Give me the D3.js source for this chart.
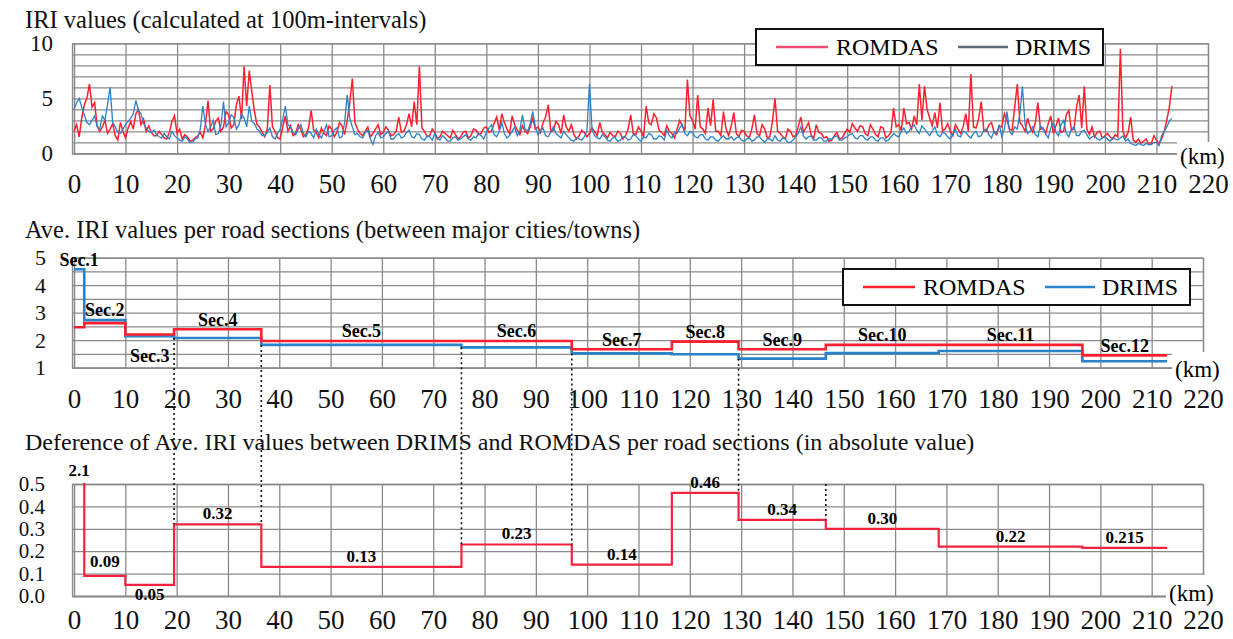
<!DOCTYPE html>
<html>
<head>
<meta charset="utf-8">
<script src="https://cdn.jsdelivr.net/npm/d3@7/dist/d3.min.js"></script>
<style>
  body { margin: 0; background: #fff; }
  svg text { font-family: "Liberation Serif", "Times New Roman", "DejaVu Serif", serif; }
</style>
</head>
<body>
<svg class="chart" width="1233" height="639"></svg>
<script>
// IRI every 0.5 km, ROMDAS and DRIMS
const kmStep = 0.5;
const romdasIri = [
  2.0, 2.6, 1.5, 3.2, 4.4, 5.0, 6.3, 4.2, 4.6, 2.5,
  2.0, 2.4, 3.0, 1.8, 2.2, 2.7, 1.6, 1.2, 2.8, 2.0,
  1.4, 2.3, 2.9, 2.2, 3.6, 4.0, 2.6, 3.1, 2.0, 2.5,
  1.9, 1.6, 1.6, 2.0, 1.7, 1.4, 1.3, 1.9, 2.9, 3.4,
  1.8, 2.2, 1.3, 1.7, 1.5, 1.1, 1.2, 1.4, 1.6, 1.9,
  1.4, 2.6, 4.8, 2.0, 2.2, 2.9, 3.2, 2.0, 2.4, 3.8,
  3.5, 2.3, 2.6, 4.4, 5.2, 3.1, 7.9, 4.3, 7.5, 5.6,
  3.8, 2.6, 2.4, 1.9, 1.5, 2.2, 6.2, 2.4, 2.0, 1.4,
  1.3, 2.4, 3.4, 2.0, 2.5, 1.6, 1.8, 2.6, 2.2, 1.5,
  1.7, 2.3, 3.9, 2.1, 1.9, 1.4, 2.3, 1.8, 1.6, 2.5,
  2.2, 1.5, 1.9, 2.8, 2.5, 1.7, 3.0, 4.6, 6.8, 2.8,
  2.2, 1.8, 1.6, 2.0, 2.4, 1.5, 1.8, 2.2, 2.6, 1.7,
  1.9, 2.4, 2.1, 1.6, 1.7, 2.0, 3.3, 1.9, 2.0, 2.6,
  3.6, 2.4, 4.7, 2.6, 7.9, 2.3, 2.0, 1.5, 1.6, 2.2,
  1.9, 1.3, 1.5, 2.0, 1.8, 1.6, 1.4, 2.1, 1.7, 1.3,
  1.5, 1.9, 2.0, 1.4, 1.6, 2.2, 2.1, 1.7, 1.8, 2.3,
  2.4, 1.9, 2.0, 2.7, 3.3, 2.1, 3.6, 2.8, 2.2, 1.8,
  3.4, 2.6, 2.1, 1.7, 2.5, 2.0, 1.8, 2.4, 3.2, 2.2,
  2.4, 1.9, 2.8, 3.3, 4.4, 2.0, 2.1, 2.9, 2.6, 1.8,
  3.5, 2.4, 2.0, 2.6, 1.7, 1.3, 1.6, 2.1, 1.9, 1.5,
  1.8, 2.3, 2.0, 1.6, 2.8, 1.9, 1.7, 1.4, 1.9, 1.6,
  1.5, 2.0, 1.8, 1.3, 1.6, 2.2, 3.5, 1.8, 1.7, 2.4,
  2.0, 1.5, 4.3, 2.8, 2.6, 3.6, 3.2, 2.1, 1.9, 1.6,
  2.5, 2.0, 1.8, 1.4, 2.2, 3.0, 2.5, 2.0, 6.7, 3.4,
  3.0, 2.2, 5.3, 2.4, 2.2, 1.8, 4.1, 2.5, 4.9, 2.0,
  2.0, 1.6, 3.8, 2.2, 1.6, 2.5, 3.7, 1.8, 1.5, 2.1,
  2.0, 1.6, 1.4, 2.2, 3.5, 1.8, 1.6, 2.6, 2.2, 1.4,
  1.5, 2.9, 5.0, 2.0, 1.8, 1.5, 1.3, 2.2, 2.0, 1.5,
  1.6, 2.4, 3.3, 1.9, 2.3, 2.8, 1.7, 1.3, 2.6, 1.9,
  1.8, 1.4, 1.5, 1.1, 1.2, 1.6, 1.9, 1.3, 1.4, 1.8,
  2.2, 1.9, 2.7, 2.3, 2.0, 2.5, 2.4, 1.8, 1.6, 2.6,
  2.2, 1.7, 1.5, 2.4, 2.3, 1.4, 1.6, 1.9, 4.1, 2.4,
  2.6, 2.1, 4.1, 2.7, 2.8, 2.2, 3.4, 2.6, 6.3, 3.0,
  6.1, 4.0, 3.2, 2.5, 3.7, 2.3, 4.6, 2.0, 2.2, 2.7,
  2.0, 1.6, 2.6, 2.2, 1.8, 2.4, 3.6, 2.0, 7.2, 2.4,
  2.3, 3.1, 4.7, 2.1, 2.0, 2.6, 2.8, 1.9, 1.7, 2.5,
  2.4, 3.6, 3.0, 2.2, 2.1, 4.2, 6.3, 2.8, 2.5, 2.0,
  3.2, 2.4, 1.9, 2.8, 4.6, 2.2, 2.3, 1.8, 2.7, 3.4,
  1.8, 2.5, 3.2, 1.9, 2.0, 3.5, 3.9, 2.1, 2.2, 4.2,
  5.3, 2.3, 6.1, 2.2, 1.7, 2.4, 1.5, 1.9, 2.0, 1.4,
  1.6, 1.8, 1.5, 1.3, 1.7, 1.5, 9.5, 2.0, 1.4, 1.9,
  3.3, 1.2, 1.0, 1.3, 0.9, 1.1, 1.3, 0.8, 0.9, 1.6,
  1.2, 0.9, 1.3, 2.0, 3.0, 4.2, 6.1
];
const drimsIri = [
  4.0, 4.6, 5.0, 4.2, 3.5, 2.8, 2.6, 3.0, 3.4, 2.4,
  2.2, 3.4, 3.0, 4.4, 6.0, 2.8, 2.4, 1.9, 1.8, 2.2,
  2.6, 2.9, 3.2, 3.6, 4.8, 3.9, 3.6, 2.7, 2.3, 2.0,
  1.9, 2.1, 1.7, 1.5, 1.4, 1.8, 1.5, 1.3, 2.0, 1.6,
  1.4, 1.2, 1.1, 1.5, 1.3, 1.0, 1.0, 1.3, 1.4, 2.2,
  4.3, 2.6, 2.0, 2.4, 3.0, 1.7, 1.8, 2.5, 4.7, 2.4,
  2.8, 3.5, 3.3, 2.2, 2.6, 3.6, 3.2, 2.4, 4.3, 2.9,
  2.7, 2.2, 2.0, 1.6, 1.6, 1.9, 2.3, 1.5, 1.3, 1.8,
  2.2, 3.1, 4.3, 2.6, 2.4, 1.9, 1.7, 2.2, 2.6, 1.8,
  1.5, 2.0, 1.8, 1.4, 2.2, 1.7, 1.4, 2.0, 2.6, 1.5,
  1.6, 2.1, 2.3, 1.4, 1.5, 2.8, 5.3, 3.2, 2.4, 1.7,
  1.8, 1.5, 1.4, 1.9, 2.1, 1.3, 0.8, 1.6, 1.9, 1.4,
  1.5, 1.8, 2.0, 1.3, 1.3, 1.6, 1.8, 1.4, 1.5, 1.9,
  2.1, 1.5, 1.4, 1.8, 1.7, 1.3, 1.2, 1.6, 1.5, 1.2,
  1.8, 1.4, 1.2, 1.6, 1.4, 1.1, 1.1, 1.4, 1.5, 1.2,
  1.3, 1.5, 1.7, 1.3, 1.2, 1.5, 1.4, 1.8, 1.6, 1.3,
  1.9, 2.3, 2.6, 1.7, 1.5, 2.0, 2.8, 1.8, 1.4, 1.6,
  2.0, 2.4, 1.6, 2.1, 3.5, 2.2, 2.0, 2.7, 3.8, 2.4,
  1.7, 2.0, 2.3, 1.6, 1.5, 1.9, 2.4, 1.8, 1.6, 1.4,
  2.0, 1.7, 1.4, 1.2, 1.1, 1.4, 1.3, 1.2, 1.5, 2.0,
  6.3, 2.2, 1.6, 1.4, 1.3, 1.7, 1.5, 1.2, 1.1, 1.4,
  1.4, 1.1, 1.2, 1.5, 1.5, 1.2, 1.3, 1.7, 1.6, 1.3,
  1.1, 1.5, 1.4, 1.8, 1.7, 1.3, 1.3, 1.6, 1.5, 1.2,
  2.1, 1.6, 1.4, 1.9, 1.8, 2.3, 2.6, 1.8, 1.6, 2.0,
  1.9, 1.5, 1.4, 1.7, 1.7, 1.3, 1.2, 1.5, 1.5, 1.2,
  1.1, 1.4, 1.6, 1.3, 1.3, 1.5, 1.2, 1.4, 1.5, 1.2,
  1.1, 1.3, 1.4, 1.1, 1.2, 1.5, 1.5, 1.2, 1.0, 1.3,
  1.3, 1.1, 1.6, 1.2, 1.1, 1.4, 1.3, 1.0, 1.0, 1.2,
  1.5, 1.8, 2.4, 1.6, 1.3, 1.5, 1.6, 1.2, 1.2, 1.4,
  1.4, 1.1, 1.1, 1.3, 1.3, 1.5, 1.6, 1.2, 1.2, 1.4,
  1.5, 1.7, 1.8, 1.4, 1.3, 1.6, 1.6, 1.3, 1.2, 1.5,
  1.5, 1.2, 1.1, 1.4, 1.4, 1.1, 1.2, 1.5, 1.8, 1.6,
  1.5, 2.0, 2.3, 1.8, 2.0, 2.4, 2.6, 2.1, 1.8, 2.5,
  2.2, 1.9, 1.6, 2.0, 2.4, 1.7, 1.5, 1.9, 1.8, 1.5,
  1.3, 1.7, 2.2, 1.6, 1.5, 2.0, 1.9, 1.6, 1.4, 1.8,
  2.0, 1.5, 1.6, 2.1, 2.2, 1.7, 1.4, 2.0, 1.8, 2.6,
  1.5, 2.2, 3.8, 2.0, 1.7, 2.4, 2.2, 3.6, 6.1, 2.6,
  1.8, 2.0, 2.4, 1.7, 1.5, 2.5, 2.2, 1.8, 1.4, 2.3,
  2.8, 1.9, 1.6, 2.6, 3.0, 1.8, 1.5, 2.2, 2.4, 1.6,
  1.6, 2.0, 2.1, 1.7, 1.3, 1.5, 1.6, 1.3, 1.2, 1.4,
  1.5, 1.3, 1.1, 1.4, 1.3, 1.2, 1.4, 1.6, 1.1, 1.3,
  0.9, 0.8, 0.7, 0.9, 0.8, 0.7, 0.9, 0.8, 0.8, 1.0,
  1.0, 0.7, 1.6, 2.0, 2.4, 2.9, 3.2
];

const kmTicks = [0, 10, 20, 30, 40, 50, 60, 70, 80, 90, 100, 110,
                 120, 130, 140, 150, 160, 170, 180, 190, 200, 210, 220];

// road sections
const sectionNames = ['Sec.1', 'Sec.2', 'Sec.3', 'Sec.4', 'Sec.5', 'Sec.6',
                      'Sec.7', 'Sec.8', 'Sec.9', 'Sec.10', 'Sec.11', 'Sec.12'];
const sectionBounds = [0, 2, 10, 19.5, 36.5, 75.5, 97, 116.5, 129.5, 146.5, 168.5, 196.5, 213];
const romdasAvg = [2.47, 2.62, 2.21, 2.40, 1.97, 1.97, 1.67, 1.95, 1.67, 1.83, 1.83, 1.45];
const drimsAvg  = [4.58, 2.73, 2.15, 2.08, 1.83, 1.74, 1.52, 1.49, 1.33, 1.53, 1.61, 1.235];
const diffValues = [2.1, 0.09, 0.05, 0.32, 0.13, 0.23, 0.14, 0.46, 0.34, 0.30, 0.22, 0.215];
const diffLabels = ['2.1', '0.09', '0.05', '0.32', '0.13', '0.23', '0.14', '0.46', '0.34', '0.30', '0.22', '0.215'];
const linkedBounds = [19.5, 36.5, 75.5, 97, 129.5];

const RED = '#ff1f2e', BLUE = '#2a82c8', GRID = '#8a8a8a';

var svg = d3.select('.chart');

function grid(g) {
    g.selectAll('.tick line').attr('stroke', GRID).attr('stroke-width', 1.3);
    g.select('.domain').attr('stroke', GRID).attr('stroke-width', 1.3);
    g.selectAll('text').attr('fill', '#111');
}

function panel(x, y, yTicks, yFmt, yPad, xPad, ySize) {
    var left = 72, right = x.range()[1];
    svg.append('g')
        .attr('transform', 'translate(' + left + ',0)')
        .call(d3.axisLeft(y).tickValues(yTicks).tickFormat(yFmt)
            .tickSize(-(right - left)).tickPadding(yPad))
        .call(grid)
        .call(g => g.selectAll('text').attr('font-size', ySize));
    svg.append('g')
        .attr('transform', 'translate(0,' + y.range()[0] + ')')
        .call(d3.axisBottom(x).tickValues(kmTicks).tickSizeOuter(0)
            .tickSize(-(y.range()[0] - y.range()[1])).tickPadding(xPad))
        .call(grid)
        .call(g => g.selectAll('text').attr('font-size', 27));
}

function kmLabel(x0, y0, w, h, base) {
    svg.append('rect').attr('x', x0).attr('y', y0).attr('width', w).attr('height', h).attr('fill', '#fff');
    svg.append('text').text('(km)')
        .attr('x', x0 + 3).attr('y', base)
        .attr('font-size', 23);
}

function title(txt, base, size) {
    svg.append('text').text(txt)
        .attr('x', 25).attr('y', base)
        .attr('font-size', size)
        .attr('fill', '#111');
}

function legend(x0, y0, w, c1, c2) {
    var g = svg.append('g').attr('transform', 'translate(' + x0 + ',' + y0 + ')');
    g.append('rect').attr('width', w).attr('height', 36)
        .attr('fill', '#fff').attr('stroke', '#111').attr('stroke-width', 2);
    g.append('line').attr('x1', 20).attr('x2', 72).attr('y1', 18).attr('y2', 18)
        .attr('stroke', c1).attr('stroke-width', 2.5);
    g.append('text').text('ROMDAS').attr('x', 80).attr('y', 26).attr('font-size', 24);
    g.append('line').attr('x1', 202).attr('x2', 252).attr('y1', 18).attr('y2', 18)
        .attr('stroke', c2).attr('stroke-width', 2.5);
    g.append('text').text('DRIMS').attr('x', 259).attr('y', 26).attr('font-size', 24);
}

// ---------- top panel ----------
var xTop = d3.scaleLinear().domain([0, 220]).range([74, 1208]);
var yTop = d3.scaleLinear().domain([0, 10]).range([153.3, 43.3]);

title('IRI values (calculated at 100m-intervals)', 28, 24.5);
panel(xTop, yTop, d3.range(0, 11), d => (d % 5 === 0 ? d : ''), 19, 21, 23);
kmLabel(1177, 142, 56, 28, 164);

var lineTop = d3.line().x((d, i) => xTop(i * kmStep)).y(d => yTop(d));
svg.append('path').datum(romdasIri)
    .attr('d', lineTop).attr('fill', 'none')
    .attr('stroke', RED).attr('stroke-width', 1.5);
svg.append('path').datum(drimsIri)
    .attr('d', lineTop).attr('fill', 'none')
    .attr('stroke', BLUE).attr('stroke-width', 1.3);

legend(756, 29, 347, '#ee4f74', '#5b6b78');

// ---------- middle panel ----------
var xMid = d3.scaleLinear().domain([0, 220]).range([74, 1203]);
var yMid = d3.scaleLinear().domain([1, 5]).range([367.7, 257.7]);

title('Ave. IRI values per road sections (between major cities/towns)', 238, 24.5);
panel(xMid, yMid, d3.range(1, 5.01, 0.5), d => (d % 1 === 0 ? d : ''), 26, 21, 22);
kmLabel(1172, 352, 61, 32, 377);

function steps(vals) {
    var pts = vals.map((v, i) => [sectionBounds[i], v]);
    pts.push([sectionBounds[vals.length], vals[vals.length - 1]]);
    return pts;
}

var lineMid = d3.line().x(d => xMid(d[0])).y(d => yMid(d[1])).curve(d3.curveStepAfter);
svg.append('path').datum(steps(drimsAvg))
    .attr('d', lineMid).attr('fill', 'none')
    .attr('stroke', BLUE).attr('stroke-width', 2.6);
svg.append('path').datum(steps(romdasAvg))
    .attr('d', lineMid).attr('fill', 'none')
    .attr('stroke', RED).attr('stroke-width', 2.6);

svg.selectAll('.secname')
    .data(sectionNames)
    .enter()
        .append('text')
            .attr('class', 'secname')
            .text(d => d)
            .attr('x', (d, i) => xMid((sectionBounds[i] + sectionBounds[i + 1]) / 2))
            .attr('y', (d, i) => d === 'Sec.3'
                ? yMid(Math.min(romdasAvg[i], drimsAvg[i])) + 20
                : yMid(Math.max(romdasAvg[i], drimsAvg[i])) - 10)
            .attr('dy', '0.35em')
            .attr('text-anchor', 'middle')
            .attr('font-size', 18)
            .attr('font-weight', 'bold');

legend(843, 269, 347, RED, BLUE);

// ---------- bottom panel ----------
var xBot = d3.scaleLinear().domain([0, 220]).range([74, 1203]);
var yBot = d3.scaleLinear().domain([0, 0.5]).range([596, 484]);

title('Deference of Ave. IRI values between DRIMS and ROMDAS per road sections (in absolute value)', 450, 24);
panel(xBot, yBot, d3.range(0, 0.501, 0.1), d3.format('.1f'), 27, 14, 21);
kmLabel(1166, 575, 67, 34, 601);

svg.append('clipPath').attr('id', 'botclip')
    .append('rect').attr('x', 72).attr('y', 483).attr('width', 1140).attr('height', 120);

var diffStep = steps(diffValues).slice(1);
diffStep.unshift([sectionBounds[1], diffValues[0]]);
var lineBot = d3.line().x(d => xBot(d[0])).y(d => yBot(d[1])).curve(d3.curveStepAfter);
svg.append('path').datum(diffStep)
    .attr('d', lineBot).attr('fill', 'none')
    .attr('clip-path', 'url(#botclip)')
    .attr('stroke', '#f4223f').attr('stroke-width', 2.2);

svg.selectAll('.difflabel')
    .data(diffLabels)
    .enter()
        .append('text')
            .attr('class', 'difflabel')
            .text(d => d)
            .attr('x', (d, i) => xBot((sectionBounds[i] + sectionBounds[i + 1]) / 2))
            .attr('y', (d, i) => {
                if (i === 0) return yBot(0.5) - 14;
                if (i === 2) return yBot(diffValues[i]) + 9;
                if (i === 1) return yBot(diffValues[i]) - 15;
                return yBot(diffValues[i]) - 11;
            })
            .attr('dy', '0.35em')
            .attr('text-anchor', 'middle')
            .attr('font-size', 17)
            .attr('font-weight', 'bold');

// dotted links between the section steps and the differences
svg.selectAll('.link')
    .data(linkedBounds)
    .enter()
        .append('line')
            .attr('x1', d => xMid(d)).attr('x2', d => xBot(d))
            .attr('y1', d => {
                var i = sectionBounds.indexOf(d);
                return yMid(d3.min([romdasAvg[i - 1], drimsAvg[i - 1], romdasAvg[i], drimsAvg[i]]));
            })
            .attr('y2', d => {
                var i = sectionBounds.indexOf(d);
                return yBot(Math.max(diffValues[i - 1], diffValues[i]));
            })
            .attr('stroke', '#111')
            .attr('stroke-width', 1.6)
            .attr('stroke-dasharray', '2,3');

svg.append('line')
    .attr('x1', xBot(146.5)).attr('x2', xBot(146.5))
    .attr('y1', yBot(0.5)).attr('y2', yBot(0.34))
    .attr('stroke', '#111').attr('stroke-width', 1.6)
    .attr('stroke-dasharray', '2,3');
</script>
</body>
</html>
